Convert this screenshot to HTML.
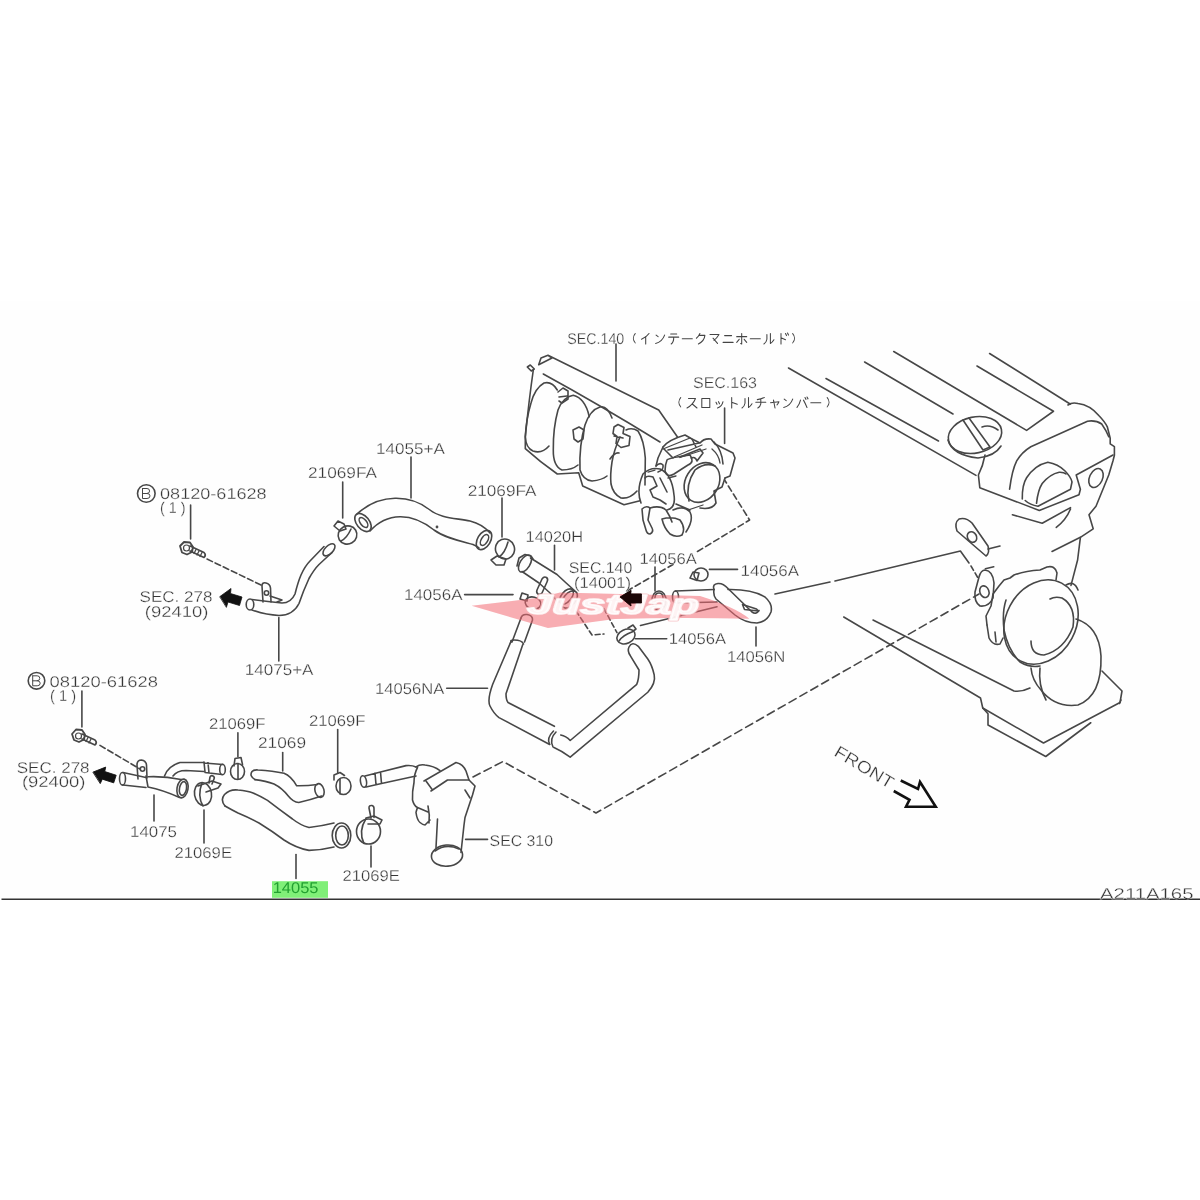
<!DOCTYPE html>
<html><head><meta charset="utf-8">
<style>
html,body{margin:0;padding:0;background:#fff;width:1200px;height:1200px;overflow:hidden}
svg{display:block;will-change:transform}
.t{font-family:"Liberation Sans",sans-serif;font-size:15.5px;fill:#333;stroke:#fff;stroke-width:0.3;text-rendering:geometricPrecision}
.l{stroke:#474747;stroke-width:1.6;fill:none;stroke-linecap:round;stroke-linejoin:round}
.d{stroke:#474747;stroke-width:1.6;fill:none;stroke-dasharray:8 4.5}
</style></head>
<body>
<svg width="1200" height="1200" viewBox="0 0 1200 1200">
<rect width="1200" height="1200" fill="#fff"/>
<rect x="0" y="301" width="1200" height="598" fill="#fefefe"/>
<!-- green highlight -->
<rect x="272" y="881.2" width="56" height="16.6" fill="#80ef78"/>
<!-- bottom line -->
<line x1="1.5" y1="899.3" x2="1200" y2="899.3" stroke="#333" stroke-width="1.4"/>
<g id="ul" class="l">
<!-- B circle + leader -->
<circle cx="146.3" cy="493.5" r="8.8"/>
<path d="M142.5,488.5 v10 h4.5 q3,0 3,-2.6 q0,-2.4 -3,-2.4 h-4.5 m4.5,0 q2.6,0 2.6,-2.4 q0,-2.6 -2.6,-2.6 h-4.5" stroke-width="1"/>
<line x1="190.6" y1="505" x2="190.6" y2="539"/>
<!-- bolt -->
<path d="M180,546 l4,-4 l6,0.5 l3,4.5 l-1,5 l-5,2.5 l-5,-2 z" stroke-width="1.8"/><circle cx="186.5" cy="548" r="3" stroke-width="1.2"/>
<path d="M190,546 l14,6.5 q2.5,2.5 0,5 l-14,-6.5" stroke-width="1.7"/>
<path d="M193,548 l-2,4 M196,549.5 l-2,4 M199,551 l-2,4 M202,552.5 l-2,4" stroke-width="1.3"/>
<line class="d" x1="207" y1="559" x2="263" y2="586" style="stroke-dasharray:6 3"/>
<!-- bracket tab -->
<path d="M263,602 l-1,-16 q0,-4 4,-3 q4,1 4.5,5 l0.5,14"/>
<circle cx="266.5" cy="593" r="2.2"/>
<path d="M270,596 l12,4 l-5,2"/>
<!-- pipe 14075+A -->
<path d="M252,599.5 q15,2 30,3.5 q9,0 13,-9 q3,-12 6,-19 q4,-9 9,-14 l14,-14.5"/>
<path d="M252,610 q14,5 27,5.5 q14,0 20,-12 q4,-12 10,-25 q5,-9 10,-14 l13,-12"/>
<ellipse cx="250" cy="604.5" rx="3.8" ry="5.5"/>
<ellipse cx="329" cy="549.8" rx="7.5" ry="4" transform="rotate(-45 329 549.8)"/>
<line x1="278.8" y1="617.5" x2="278.8" y2="661"/>
<!-- arrow -->
<path d="M220,596.5 L231,588.5 L230.5,593.5 L242,597 L239.5,605.5 L228,602 L226.5,607 Z" fill="#111" stroke="#111" stroke-width="0.8"/>
</g>
<g id="mid1" class="l">
<!-- leaders -->
<line x1="342.7" y1="482" x2="342.7" y2="518"/>
<line x1="411" y1="457" x2="411" y2="498"/>
<line x1="502" y1="498" x2="502" y2="537"/>
<!-- clamp left 21069FA -->
<ellipse cx="347.5" cy="535" rx="9.5" ry="9" transform="rotate(-30 347.5 535)"/>
<path d="M341,541 q6,-3 10,-12" />
<path d="M334,526 l4,-5 l6,3 l2,5 l-6,2 z"/>
<!-- hose 14055+A -->
<path d="M357,514 C368,504 381,498.5 395,498.3 C410,498 420,502 430,510 C440,518 455,518 470,521 C478,523 485,527 490,533"/>
<path d="M370,531 C378,522 388,517 400,516.7 C414,516.5 424,522 434,530 C445,538 460,541 473,544.5 C476,546 478,547 479,548"/>
<ellipse cx="363" cy="522.5" rx="6.3" ry="10.5" transform="rotate(-39 363 522.5)"/>
<ellipse cx="363.5" cy="522.5" rx="3" ry="5.8" transform="rotate(-39 363.5 522.5)"/>
<ellipse cx="484" cy="540" rx="6.5" ry="10.5" transform="rotate(31 484 540)"/>
<ellipse cx="484.5" cy="540" rx="3.2" ry="6" transform="rotate(31 484.5 540)"/>
<circle cx="437" cy="527" r="0.6"/>
<!-- clamp right 21069FA -->
<ellipse cx="505" cy="549" rx="9.5" ry="10" transform="rotate(-20 505 549)"/>
<path d="M499,557 q6,-4 9,-15"/>
<path d="M491,560 l6,-4 l9,3 l-2,6 l-8,0 z"/>
<!-- 14020H -->
<line x1="554.5" y1="545.4" x2="554.5" y2="570"/>
<path d="M530.5,558 L557,574.5 Q566,583 574.5,590.5"/>
<path d="M522,571.5 L539,583 Q550,592 558.5,602.5"/>
<ellipse cx="525" cy="563.5" rx="5" ry="9.5" transform="rotate(32 525 563.5)"/>
<path d="M517,566 l2,-8 l6,-3.5 l6,1.5 l2,3"/>
<ellipse cx="569.5" cy="599.5" rx="6" ry="10" transform="rotate(40 569.5 599.5)"/>
<ellipse cx="566.5" cy="596.5" rx="5" ry="9" transform="rotate(40 566.5 596.5)"/>
<path d="M537,590 l5,-11 q2,-3 4.5,-1.5 q2,1.5 0.5,4.5 l-5,11 q-2,2 -4,1 q-2,-1.5 -1,-4 z"/>
<!-- small clamp 14056A left -->
<line x1="464.6" y1="594.6" x2="513" y2="594.6"/>
<ellipse cx="533" cy="603" rx="8" ry="6" transform="rotate(15 533 603)"/>
<path d="M520,599 l2,-6 l6,2 l-1,6 z"/>
<!-- 14056NA hose -->
<line x1="446.7" y1="688.3" x2="487.5" y2="688.3"/>
<path d="M521,618 q1,-4 6,-3.5 q6,1 5.5,5.5 l-8,22"/>
<path d="M521,618 l-9,24"/>
<path d="M511,642 q-1,-2 3,-2 q8,0 9.5,4"/>
<path d="M510.9,641.6 L492.7,684.3 Q487,700 490,706 Q494,714 499,717.6 L549.7,744.5"/>
<path d="M522.7,644.75 L506,693.8 Q506,700 508,702.5 L554.4,726.3"/>
<path d="M549.5,744 q-3,-6 4,-13 M553,747 q-4,-8 3,-15 M554,747.5 Q562,751 570.2,757.2 L647.8,692.25 Q656,683 654.2,674.8 Q652,665 647.8,659 L638.3,646.3 Q632,641 629,647 Q627,651 630.4,655.8 L639,670 Q639,679 636.75,684.3 L570.2,740.5 Q566,736 560.75,735"/>
</g>
<g id="ll" class="l">
<circle cx="36.5" cy="680.8" r="8.3"/>
<path d="M32.7,675.8 v10 h4.5 q3,0 3,-2.6 q0,-2.4 -3,-2.4 h-4.5 m4.5,0 q2.6,0 2.6,-2.4 q0,-2.6 -2.6,-2.6 h-4.5" stroke-width="1"/>
<line x1="81.9" y1="691" x2="81.9" y2="727"/>
<!-- bolt -->
<path d="M72,734 l4,-4.5 l6,0.5 l3,4.5 l-1,5 l-5,2.5 l-5,-2 z" stroke-width="1.8"/><circle cx="78.5" cy="736" r="3" stroke-width="1.2"/>
<path d="M82,734 l13,6 q2.5,2.5 0,5 l-13,-6" stroke-width="1.7"/>
<path d="M85,736 l-2,4 M88,737.5 l-2,4 M91,739 l-2,4" stroke-width="1.3"/>
<line class="d" x1="100" y1="745.4" x2="140" y2="769" style="stroke-dasharray:6 3"/>
<!-- bracket tab -->
<path d="M138,779 l-1,-14 q0,-5 4.5,-5 q4.5,0.5 5,5 l0.5,13"/>
<circle cx="142.5" cy="769" r="2.2"/>
<!-- arrow -->
<path transform="rotate(18 104 775.5)" d="M92.7,775.5 L103,767 L103.5,771.5 L115.5,771.5 L115.5,779.5 L103.5,779.5 L103,784 Z" fill="#111" stroke="#111" stroke-width="0.8"/>
<!-- 14075 pipe -->
<path d="M123,772.5 L146,777.5 M123,785 L146,787.5"/>
<ellipse cx="122.5" cy="778.8" rx="3" ry="6.3"/>
<path d="M146,776 L148,787 M148,776.7 Q165,776 181,779.5 M148,787 Q163,790 179.5,797.5"/>
<ellipse cx="182.5" cy="788.5" rx="5.5" ry="9.5" transform="rotate(10 182.5 788.5)"/>
<ellipse cx="183" cy="788.5" rx="3.5" ry="7" transform="rotate(10 183 788.5)"/>
<path d="M164.5,776 Q168,766 180,762.5 L204,762.5 M173,776 Q177,770.5 186,770.5 L204,771.5"/>
<path d="M204,762 L205,772 M204,763 L223,764.5 M205,772.5 L222,774.5 M208,763 l1,10"/>
<ellipse cx="222.5" cy="769.5" rx="2.8" ry="5.3"/>
<line x1="154" y1="795" x2="154" y2="821"/>
<line x1="204" y1="810" x2="204" y2="843"/>
<!-- clamp 21069E left -->
<ellipse cx="203" cy="794" rx="8.5" ry="11.5" transform="rotate(-10 203 794)"/>
<path d="M203,806 q-6,-10 -1,-23 M198,786 l14,-5 l9,3 l-3,4 l-12,4"/>
<path d="M209,783 l1,-6 q1,-2 3,-1 q2,1 1,3 l-2,5"/>
<!-- clamp 21069F left + leader -->
<line x1="237.9" y1="732.7" x2="237.9" y2="756.7"/>
<ellipse cx="237.5" cy="771.5" rx="7" ry="8"/>
<path d="M234,766 l1,-7.5 l6,-1 l1.5,7 M238,764 l0,15"/>
<!-- hose 21069 -->
<line x1="282.7" y1="752.5" x2="282.7" y2="771"/>
<path d="M255,779.6 Q249,776 252,771.5 Q254,769.5 258,770 Q273,771 284,773.3 Q291,776 296.7,785.8 Q307,786 317.5,784.5"/>
<path d="M255,779.6 Q266,781 274,784 Q282,788 288.3,796 Q293,802 298.75,802.5 Q310,800 321.7,796"/>
<ellipse cx="319.5" cy="790.5" rx="4.5" ry="7" transform="rotate(-15 319.5 790.5)"/>
<!-- clamp 21069F right -->
<line x1="337.7" y1="729.6" x2="337.7" y2="773"/>
<ellipse cx="343.5" cy="786" rx="7.5" ry="8.5"/>
<path d="M334,780 l0,-5 l6,-2.5 l4.5,3 M340,779 l0,15"/>
<!-- hose 14055 -->
<path d="M225,806 Q220,800 224.5,794.5 Q230,789 238,790 Q248,791 253,793 Q260,796 267.5,800.4 Q280,810 292.5,819 Q300,825 309,827.5 Q322,826 334,823"/>
<path d="M225,806 Q232,810 238,813 Q250,818 259,823 Q272,831 284,840 Q296,848 309,850.4 Q322,850 334,847"/>
<ellipse cx="341.5" cy="835.5" rx="9.3" ry="12.5"/>
<ellipse cx="342" cy="835.5" rx="6.3" ry="9.5"/>
<line x1="296" y1="854.6" x2="296" y2="878.5"/>
<!-- clamp 21069E right -->
<ellipse cx="368.5" cy="831.5" rx="12" ry="12.5"/>
<path d="M364,843.5 q-6,-12 2,-25 M366,818 l8,-2 l8,4 l-2,4 l-12,0"/>
<path d="M371,818 l-2,-10 q0,-3 3,-2.5 q2,0.5 2,3 l0,9"/>
<line x1="371" y1="846" x2="371" y2="867"/>
<!-- inlet pipe + thermostat housing -->
<ellipse cx="363.5" cy="781.5" rx="3" ry="5.8" transform="rotate(-10 363.5 781.5)"/>
<path d="M365,776 L380.5,772 M366,787 L381.5,783.5 M375,773 L376,784.5 M380.5,772 L381.5,783.5 M380.5,772 L406,765.6 Q412,765 416,767 M381.5,783.5 L416,776"/>
<path d="M416,767 Q420,764 425,765 Q434,766 440,770.6"/>
<path d="M424,781 L456,762.5 Q463,764 466,771 L469,780 L475,786 L472.5,795 L470,802.5 L465,817.5 L464,825 L461,852.5"/>
<path d="M426,781 L432.5,790 M431,791 L447.5,780 L469,780 M465,790 L470,798"/>
<path d="M417.5,767.5 Q414,774 414,782.5 Q412,792 412.5,800 Q414,806 417.5,807.5 Q416,812 416,812.5 Q417,820 420,822.5 Q423,825 425,825 L430,820 M417.5,807.5 L428,812 M428,806 Q430,815 429,823 M437.5,819 L436,847.5"/>
<ellipse cx="447" cy="855.6" rx="15.6" ry="10.6" transform="rotate(-5 447 855.6)"/>
<path d="M435,851 Q446,843 459,849"/>
<line x1="465.6" y1="839.4" x2="487.5" y2="839.4"/>
<path class="d" d="M473,777 L503,761.5 L596,813 L979,594"/>
</g>
<g id="front">
<text class="t" x="0" y="0" textLength="66" lengthAdjust="spacingAndGlyphs" transform="translate(833 755) rotate(31)" style="font-size:17px">FRONT</text>
<path d="M900.75,780.5 L918,789 L920,782 L935.75,806.75 L906,806.75 L909.5,799.75 L893.75,791" fill="none" stroke="#111" stroke-width="2.6" stroke-linejoin="miter"/>
</g>
<g id="mr" class="l">
<!-- 14056A top clamp + leader -->
<line x1="655" y1="567" x2="655" y2="591"/>
<ellipse cx="659" cy="600.5" rx="7" ry="9.5"/>
<path d="M656,608 l-1,-10 q0,-5 4,-5 q4,0 4,5 l-1,10 M654.5,608 q4.5,3 9,0"/>
<!-- tube + 14056N loop -->
<ellipse cx="675.5" cy="597" rx="3" ry="6"/>
<path d="M675.5,591 L714,589.5 M675.5,603 L717,602"/>
<path d="M714,589.5 Q712,584 718,583.5 Q723,583 728,588.5 L752,612 Q756,615 759,610.5"/>
<path d="M728,589.5 Q752,589 765,597 Q773,604 771,612 Q767,622 757,623 Q745,623 735,615 L716,599 Q713,595 714,589.5"/>
<path d="M742.5,604.5 l14,4.5 l2,2 l-14,-1.5 z"/>
<line x1="756" y1="627" x2="756" y2="646"/>
<!-- 14056A right clamp -->
<line x1="709.4" y1="569.4" x2="737.5" y2="569.4"/>
<ellipse cx="701" cy="574.5" rx="7" ry="6.5"/>
<path d="M690,578 l3,-6 l6,1 l-2,7.5 z"/>
<!-- 14056A lower clamp -->
<line x1="635.4" y1="638.75" x2="666.7" y2="638.75"/>
<ellipse cx="626" cy="636.5" rx="9.5" ry="7" transform="rotate(-25 626 636.5)"/>
<path d="M619,641 q4,-6 13,-9 M628,628 l5,-3 l3,4 l-4,3"/>
<!-- solid line leader up-right -->
<line x1="640.5" y1="625.5" x2="717" y2="606.75"/>
<!-- dashed lines near watermark -->
<path class="d" d="M576,611 L592,635 L604,634" style="stroke-dasharray:5 3"/>
<path class="d" d="M604,608.7 L617,632.7" style="stroke-dasharray:5 3"/>
<path class="d" d="M627,591 L673,564.5" style="stroke-dasharray:6 3.5"/>
<path class="d" d="M697.5,551.5 L749.6,520 L724.6,480" style="stroke-dasharray:6 3.5"/>
<!-- line from 14056N to engine -->
<path d="M775,594 L830,582 M835,581 L960.4,551 L969,563" />
<path class="d" d="M971,566 L978,578" style="stroke-dasharray:5 3"/>
</g>
<g id="manifold" class="l">
<line x1="616" y1="344" x2="616" y2="381"/>
<line x1="724.6" y1="408" x2="724.6" y2="443.5"/>
<!-- outer top -->
<path d="M527.3,367 l3,-2 l4,4 l-3,2 z M538.7,364.7 L541,358 L548,355.3 L552,358 L538.7,364.7 M548,355.3 L658.7,410 L677.3,436.7"/>
<path d="M533.3,370 Q529,400 525.3,436.7 L525.3,448.7 Q540,462 557.3,474 L578.7,472.7 L582.7,486 L624,504.7 L640,500.7"/>
<path d="M543.3,374 Q600,405 660,442"/>
<!-- runners -->
<path d="M557.3,390 Q552,381 544,383 Q535,388 531,403 Q526,420 525.3,437 Q526,448 533,451 Q542,454 549,446"/>
<path d="M589.3,416.7 Q585,398 573.3,395.3 Q563,397 558,410 Q553,428 553.3,450 Q553,466 562,470 Q572,470 578,465"/>
<path d="M612,418 Q607,405 600,407 Q590,410 585,425 Q579,445 580,470 Q583,480 592,481 Q602,480 607,476"/>
<path d="M645.3,458 Q644,440 638,431 Q632,427 626,430 M620,437 Q614,450 612,462 Q610,475 611,484 Q613,494 621,498 Q630,499 637,491 M645.3,458 L645,485"/>
<path d="M558,392 l5,-4 l5,3 l0,8 l-6,4 l-3,-2 M559,397 l8,-1"/>
<path d="M573,430 l6,-3 l5,3 l-1,9 l-5,3 l-4,-3 z"/>
<path d="M614,427 l4,-2.5 l6,3 l-1,6 l7,3 l-1,9 l-8,2 l-5,-4 l1,-7 l-4,-3 z M614,436 l9,2"/>
<path d="M610,459 Q615,452 619,453"/>
<!-- throttle body -->
<path d="M663,447 Q668,440 685,435 L692,439 L700,443 Q704,438 711,439 L715,444 L733,453 L735,458 L730,476 L725,478"/>
<path d="M663,447 L658,458 L656,466 M664,449 L673,458 M692,439 L696,447 M668,450 L699,443 M680,457 L700,449 L703,453 L697,461 Q695,456 691,458"/>
<path d="M667,460 Q668,458 690,455 Q695,462 688,465 L674,474 Q667,478 665,471 Q665,465 667,460"/>
<ellipse cx="702" cy="482.5" rx="16.5" ry="21" transform="rotate(32 702 482.5)"/>
<path d="M689,501 Q685,485 695,470 Q705,462 715,466"/>
<path d="M714,442 Q722,450 723,464 M725,478 L722,487 L714,491 L716,503 Q712,510 700,508"/>
<path d="M641,503 Q636,490 643,474 Q650,467 660,469 Q672,474 674,495 Q676,508 667,510"/>
<path d="M645,478 Q647,475 653,477 L657,486 L650,490 L653,497 L660,500 L666,504 M660,478 L667,492"/>
<path d="M656,466 Q660,462 663,465 Q664,470 658,472"/>
<path d="M642,509 Q646,505 650,508 L648,520 L652,528 Q654,532 650,534 Q647,534 646,530 L643,520 Z"/>
<path d="M650,508 Q660,505 666,510 Q670,516 672,522 M662,519 Q672,516 680,520 Q686,528 682,535 Q676,538 670,534 Q664,528 662,519"/>
<path d="M673,510 Q684,505 690,512 Q694,520 686,532 M676,504 L690,510"/>
<path d="M663,449 L690,438 M674,457 L702,445 M680,457.5 L706,449 M712,449 Q719,455 720,463 M688,510 L703,505 M648,472 L655,470 M668,478 L676,476" stroke-width="1.3"/>
</g>
<!-- SEC.140 arrow -->
<path d="M620,597 L631,590.5 L630.5,594 L641.5,594 L641.5,603 L630.5,603 L631,606 Z" fill="#111" stroke="#111" stroke-width="0.8"/>
<g id="engine" class="l">
<!-- rocker cover lines -->
<path d="M788.5,368 L976,475.4"/>
<path d="M826,378.5 L938.5,441"/>
<path d="M864.6,362 L953,414"/>
<path d="M893.75,351.5 L1026.6,430.4 L1053.5,411.25 L977,366"/>
<path d="M989.6,353.5 L1070.5,404.2 M1068,405 Q1072,402 1078,403.5 Q1090,405 1098.8,415.5 Q1105,422 1107.3,426.8 L1110.2,438.2 L1110.2,443.8 L1114.4,446.7 L1114.4,455.2 L1113,460.8 L1108.75,475 L1096,506.2 L1089,514.7 L1093.2,528.8 L1080.4,537.3 L1077.6,560 L1071,585.4"/>
<!-- oil cap -->
<ellipse cx="975" cy="435" rx="27" ry="18" transform="rotate(-12 975 435)"/>
<path d="M948,440 Q952,455 978,458 Q995,456 1001,446"/>
<path d="M963,420 L983,450 M969,418 L990,447 M983,450 L990,447"/>
<path d="M982,427 Q990,424 998,430"/>
<!-- front face -->
<path d="M985,455 Q983,466 978.4,475 L979.8,487.7 L1039.3,510.4 L1079,494.8 L1080.4,489.2 L1076.2,475 L1113,455"/>
<path d="M1009.6,489.2 Q1012,470 1016.7,460.8 Q1022,452 1030.8,446.7 L1087.5,421.2 Q1096,420 1101.7,424 Q1106,430 1108.75,436.75"/>
<path d="M1012.4,514.7 L1042.2,523.2 L1070.5,507.6 M1056.3,527.4 Q1066,520 1070.5,509"/>
<path d="M1022.3,499 Q1022,485 1026.6,477.8 Q1035,465 1047.8,462.25 Q1058,464 1064.8,470.75 Q1071,477 1072,482 L1070.5,489.2 L1038,506.2 Q1030,505 1025.2,500.5"/>
<path d="M1036.5,503.3 Q1038,490 1042.2,483.5 Q1050,474 1059.2,472.2 Q1064,472 1066,474"/>
<ellipse cx="1096" cy="478" rx="6.5" ry="10" transform="rotate(25 1096 478)"/>
<path d="M1052,551.5 L1080.4,537.3"/>
<!-- gaskets -->
<path d="M959,519 Q954,523 957,531 L986,556 Q990,553 988,546 L972,523 Q966,517 959,519 Z"/>
<ellipse cx="972" cy="537" rx="4.5" ry="5.5" transform="rotate(-30 972 537)"/>
<path d="M988,549 L1000,546"/>
<path d="M985,570 Q993,571 994,583 L993,598 Q989,607 980,606 Q974,602 975,592 L979,577 Q981,570 985,570 Z"/>
<ellipse cx="984.4" cy="591.7" rx="4.5" ry="6" transform="rotate(-20 984.4 591.7)"/>
<path d="M985.4,568.75 L993.75,566.7"/>
<!-- pump -->
<path d="M987,625 L986,616 L991,606 L993,594 L999,586 L1004,580 L1010,578 L1014,575 Q1025,571 1040,570 L1047,567 Q1055,565 1057,573 L1056,580"/>
<path d="M987,625 L989,638 Q993,646 1000,644 L1003,638 M995,632 L996,642"/>
<ellipse cx="1041" cy="622" rx="35" ry="44" transform="rotate(28 1041 622)"/>
<path d="M1006,600 Q1002,612 1004,630 Q1008,650 1020,662 Q1030,668 1040,666"/>
<path d="M1031,641 Q1031,655 1044,655 Q1064,650 1073,627 Q1076,606 1062,598 Q1055,596 1050,599"/>
<path d="M1076,619 Q1099,626 1101,656 Q1102,696 1078,705 Q1055,708 1041,690 Q1032,680 1031,668"/>
<path d="M1040,668 Q1038,685 1046,700"/>
<path d="M1066,585 Q1074,580 1078,590"/>
<!-- engine side lines and plate -->
<path d="M873,620 L1014,691 Q1022,692 1030,688"/>
<path d="M843.75,617 L980.5,698 L982.75,708 L988,713.75 L988,725 L1045.75,756.5 L1090.75,722.75"/>
<path d="M982.75,708 L1043.5,743 L1120,702.5 L1122,691 L1102,671"/>
<path d="M1119.5,703.5 L1121,700"/>
</g>
<g id="kata" style="fill:none;stroke:#444;stroke-width:1.05;stroke-linecap:round;stroke-linejoin:round" vector-effect="non-scaling-stroke">
<path transform="translate(641.5 333.5) scale(1.000 1.050)" d="M7.5,0 Q5,3.5 0,5.5 M4.2,3 L4.2,10"/>
<path transform="translate(655.1 333.5) scale(1.000 1.050)" d="M1,1.5 L3,3 M0.5,9.5 Q7,8 9.5,1.5"/>
<path transform="translate(668.7 333.5) scale(1.000 1.050)" d="M2,0.5 L8,0.5 M0,3.5 L10,3.5 M5,3.5 Q5.2,8 2.5,10"/>
<path transform="translate(682.3 333.5) scale(1.000 1.050)" d="M0,5 L10,5"/>
<path transform="translate(695.9 333.5) scale(1.000 1.050)" d="M4,0 Q3,2.5 0.5,4.5 M3,1.8 L9,1.8 Q8.5,7 2.5,10"/>
<path transform="translate(709.5 333.5) scale(1.000 1.050)" d="M0.5,1 L9.5,1 Q7,5 4.5,6.5 M3.5,4.5 L8,9.5"/>
<path transform="translate(723.1 333.5) scale(1.000 1.050)" d="M1.5,2 L8.5,2 M0,8.5 L10,8.5"/>
<path transform="translate(736.7 333.5) scale(1.000 1.050)" d="M0,3 L10,3 M5,0 L5,10 L4,9.5 M2.5,5.5 L0,8.5 M7.5,5.5 L10,8.5"/>
<path transform="translate(750.3 333.5) scale(1.000 1.050)" d="M0,5 L10,5"/>
<path transform="translate(763.9 333.5) scale(1.000 1.050)" d="M3,1 L3,5.5 Q2.5,8.5 0,10 M6.5,0 L6.5,9.5 Q8.5,8.5 10,6"/>
<path transform="translate(777.5 333.5) scale(1.000 1.050)" d="M3.5,0 L3.5,10 M3.5,4 L8,6 M8,0 L9,2 M10,-0.5 L11,1.5"/>
<path transform="translate(630.5 333) scale(0.8 1.0)" d="M6,0.5 Q1,5 6,10"/><path transform="translate(791 333) scale(0.8 1.0)" d="M2,0.5 Q7,5 2,10"/>
<path transform="translate(687.0 397.5) scale(1.000 1.050)" d="M1.5,1 L8.5,1 Q6,7 0,10 M5,6 L10,10"/>
<path transform="translate(700.8 397.5) scale(1.000 1.050)" d="M1,1 L9,1 L9,9.5 L1,9.5 Z"/>
<path transform="translate(714.5 397.5) scale(1.000 1.050)" d="M1.5,4.5 L2.5,6.5 M4,4 L5,6 M8.5,4 Q7.5,8.5 3,10"/>
<path transform="translate(728.2 397.5) scale(1.000 1.050)" d="M3.5,0 L3.5,10 M3.5,4.5 L9,6.5"/>
<path transform="translate(742.0 397.5) scale(1.000 1.050)" d="M3,1 L3,5.5 Q2.5,8.5 0,10 M6.5,0 L6.5,9.5 Q8.5,8.5 10,6"/>
<path transform="translate(755.8 397.5) scale(1.000 1.050)" d="M8.5,0 Q5,1.5 1.5,2 M0,4.5 L10,4.5 M5,1.7 L5,6 Q4.5,8.5 2,10"/>
<path transform="translate(769.5 397.5) scale(1.000 1.050)" d="M1,5 L9.5,4 Q9,5.5 7.5,7 M4,2.5 L5.5,10"/>
<path transform="translate(783.2 397.5) scale(1.000 1.050)" d="M1,1.5 L3,3 M0.5,9.5 Q7,8 9.5,1.5"/>
<path transform="translate(797.0 397.5) scale(1.000 1.050)" d="M3.5,2.5 Q2.5,6.5 0,9.5 M6.5,2.5 Q8.5,6 10,9.5 M8,0 L9,1.8 M10,-0.5 L11,1.3"/>
<path transform="translate(810.8 397.5) scale(1.000 1.050)" d="M0,5 L10,5"/>
<path transform="translate(676 397) scale(0.8 1.0)" d="M6,0.5 Q1,5 6,10"/><path transform="translate(825.5 397) scale(0.8 1.0)" d="M2,0.5 Q7,5 2,10"/>
</g>
<g id="texts" opacity="0.99">
<text class="t" x="160" y="498.8" textLength="106.7" lengthAdjust="spacingAndGlyphs">08120-61628</text>
<text class="t" x="160" y="513" textLength="25.4" lengthAdjust="spacingAndGlyphs">( 1 )</text>
<text class="t" x="139.6" y="602" textLength="72.9" lengthAdjust="spacingAndGlyphs">SEC. 278</text>
<text class="t" x="144.8" y="616.5" textLength="63.5" lengthAdjust="spacingAndGlyphs">(92410)</text>
<text class="t" x="244.8" y="674.8" textLength="68.7" lengthAdjust="spacingAndGlyphs">14075+A</text>
<text class="t" x="308" y="478.3" textLength="69" lengthAdjust="spacingAndGlyphs">21069FA</text>
<text class="t" x="376" y="454" textLength="68.8" lengthAdjust="spacingAndGlyphs">14055+A</text>
<text class="t" x="467.7" y="495.6" textLength="68.8" lengthAdjust="spacingAndGlyphs">21069FA</text>
<text class="t" x="525.6" y="541.8" textLength="57.4" lengthAdjust="spacingAndGlyphs">14020H</text>
<text class="t" x="568.75" y="573" textLength="63.5" lengthAdjust="spacingAndGlyphs">SEC.140</text>
<text class="t" x="574" y="587.7" textLength="57" lengthAdjust="spacingAndGlyphs">(14001)</text>
<text class="t" x="404" y="600" textLength="58.5" lengthAdjust="spacingAndGlyphs">14056A</text>
<text class="t" x="639.6" y="563.8" textLength="57.3" lengthAdjust="spacingAndGlyphs">14056A</text>
<text class="t" x="740.6" y="576.3" textLength="58.4" lengthAdjust="spacingAndGlyphs">14056A</text>
<text class="t" x="668.8" y="644" textLength="57.2" lengthAdjust="spacingAndGlyphs">14056A</text>
<text class="t" x="727" y="661.7" textLength="58.4" lengthAdjust="spacingAndGlyphs">14056N</text>
<text class="t" x="375" y="694.2" textLength="69.2" lengthAdjust="spacingAndGlyphs">14056NA</text>
<text class="t" x="567.3" y="343.5" textLength="57" lengthAdjust="spacingAndGlyphs">SEC.140</text>
<text class="t" x="693" y="388" textLength="64" lengthAdjust="spacingAndGlyphs">SEC.163</text>
<text class="t" x="49.6" y="686.7" textLength="108.4" lengthAdjust="spacingAndGlyphs">08120-61628</text>
<text class="t" x="50" y="700.6" textLength="26" lengthAdjust="spacingAndGlyphs">( 1 )</text>
<text class="t" x="16.7" y="772.5" textLength="72.9" lengthAdjust="spacingAndGlyphs">SEC. 278</text>
<text class="t" x="21.9" y="786.7" textLength="63.5" lengthAdjust="spacingAndGlyphs">(92400)</text>
<text class="t" x="130" y="836.7" textLength="47" lengthAdjust="spacingAndGlyphs">14075</text>
<text class="t" x="174.6" y="858.3" textLength="57.4" lengthAdjust="spacingAndGlyphs">21069E</text>
<text class="t" x="209" y="728.5" textLength="56.4" lengthAdjust="spacingAndGlyphs">21069F</text>
<text class="t" x="258" y="748.3" textLength="48" lengthAdjust="spacingAndGlyphs">21069</text>
<text class="t" x="309" y="726" textLength="56.4" lengthAdjust="spacingAndGlyphs">21069F</text>
<text class="t" x="272.7" y="893" textLength="45.8" lengthAdjust="spacingAndGlyphs" style="fill:#22a030;stroke:none">14055</text>
<text class="t" x="342.5" y="880.6" textLength="57.3" lengthAdjust="spacingAndGlyphs">21069E</text>
<text class="t" x="489.6" y="845.6" textLength="63.4" lengthAdjust="spacingAndGlyphs">SEC 310</text>
<text class="t" x="1100" y="899" textLength="93.5" lengthAdjust="spacingAndGlyphs">A211A165</text>
</g>
<g id="wm">
<path d="M471.6,605.8 L540,597.5 L560,592.5 L700,596 Q735,607 749.4,618.75 Q680,617 615,619 L548,628 Z" fill="#f26a72" fill-opacity="0.55"/>
<g style="font-family:'Liberation Sans',sans-serif;font-weight:bold;font-style:italic;font-size:28px">
<text x="527" y="614" textLength="172" lengthAdjust="spacingAndGlyphs" style="fill:none;stroke:#f7b4b8;stroke-width:3.2;stroke-linejoin:round;stroke-opacity:0.7">JustJap</text>
<text x="527" y="614" textLength="172" lengthAdjust="spacingAndGlyphs" style="fill:#fff;fill-opacity:0.85;stroke:#fff;stroke-opacity:0.85;stroke-width:1.6;stroke-linejoin:round">JustJap</text>
</g>
<path d="M620,597 L631,590.5 L630.5,594 L641.5,594 L641.5,603 L630.5,603 L631,606 Z" fill="#1a0505" stroke="#1a0505" stroke-width="0.8"/>
</g>
</svg>
</body></html>
